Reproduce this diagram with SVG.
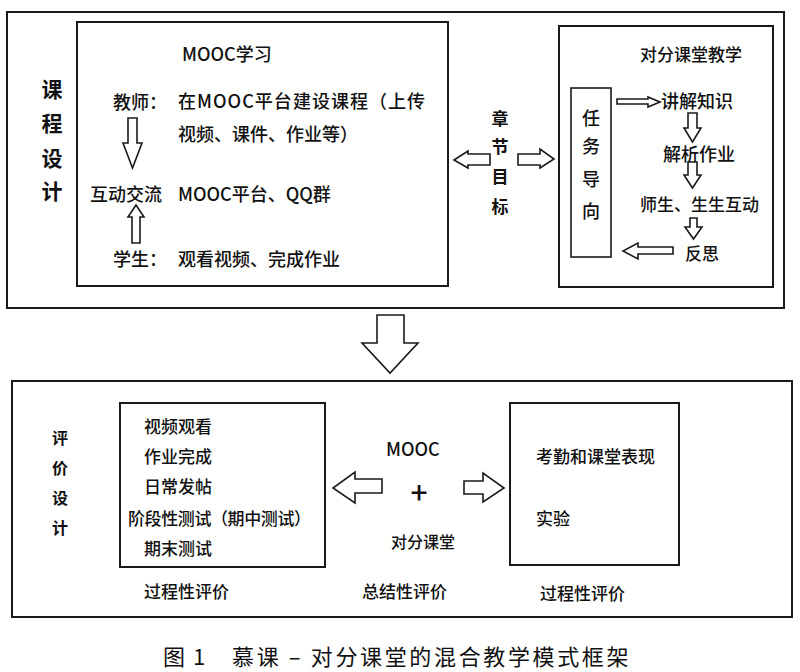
<svg xmlns="http://www.w3.org/2000/svg" width="800" height="672" viewBox="0 0 800 672">
<style>
.box{fill:#fff;stroke:#1a1a1a;stroke-width:2}
.arr{fill:#fff;stroke:#1a1a1a;stroke-width:1.6;stroke-linejoin:miter}
text{font-family:"Noto Sans CJK SC","Noto Sans",sans-serif;fill:#111;dominant-baseline:central}
.t{font-size:18px;font-weight:500}
.s{font-size:17px;font-weight:500}
.b{font-size:21px;font-weight:bold}
.bm{font-size:17px;font-weight:bold}
.bs{font-size:16px;font-weight:bold}
.cap{font-size:22px;font-weight:normal;letter-spacing:1.5px}
</style>
<rect width="800" height="672" fill="#fff"/>

<g id="course-design">
<rect class="box" x="7" y="12" width="777" height="296"/>
<text class="b" x="52" y="88" text-anchor="middle">课</text>
<text class="b" x="52" y="122" text-anchor="middle">程</text>
<text class="b" x="52" y="157" text-anchor="middle">设</text>
<text class="b" x="52" y="190" text-anchor="middle">计</text>
</g>

<g id="mooc-learning">
<rect class="box" x="77" y="22" width="371" height="264"/>
<text class="t" x="182" y="53">MOOC学习</text>
<text class="t" x="113" y="101">教师：</text>
<text class="t" x="178" y="100" textLength="247">在MOOC平台建设课程（上传</text>
<text class="t" x="178" y="133">视频、课件、作业等）</text>
<text class="t" x="90" y="193">互动交流</text>
<text class="t" x="178" y="193">MOOC平台、QQ群</text>
<text class="t" x="113" y="258">学生：</text>
<text class="t" x="178" y="258">观看视频、完成作业</text>
</g>

<g id="chapter-goal">
<text class="bm" x="500" y="117" text-anchor="middle">章</text>
<text class="bm" x="500" y="145" text-anchor="middle">节</text>
<text class="bm" x="500" y="175" text-anchor="middle">目</text>
<text class="bm" x="500" y="205" text-anchor="middle">标</text>
</g>

<g id="duifen-teaching">
<rect class="box" x="559" y="26" width="214" height="261"/>
<text class="s" x="640" y="53">对分课堂教学</text>
<text class="t" x="661" y="100">讲解知识</text>
<text class="t" x="663" y="153">解析作业</text>
<text class="s" x="640" y="203">师生、生生互动</text>
<text class="s" x="685" y="252">反思</text>
</g>

<g id="task-oriented">
<rect class="box" x="571" y="88" width="40" height="169" style="stroke-width:1.6"/>
<text class="t" x="591" y="117" text-anchor="middle">任</text>
<text class="t" x="591" y="145" text-anchor="middle">务</text>
<text class="t" x="591" y="178" text-anchor="middle">导</text>
<text class="t" x="591" y="210" text-anchor="middle">向</text>
</g>

<g id="evaluation-design">
<rect class="box" x="12" y="381" width="780" height="236"/>
<text class="bs" x="60" y="437" text-anchor="middle">评</text>
<text class="bs" x="60" y="467" text-anchor="middle">价</text>
<text class="bs" x="60" y="497" text-anchor="middle">设</text>
<text class="bs" x="60" y="527" text-anchor="middle">计</text>
<text class="t" x="386" y="448">MOOC</text>
<text x="419" y="491" text-anchor="middle" style="font-size:30px;font-weight:500">+</text>
<text class="s" x="391" y="541" style="font-size:16px">对分课堂</text>
<text class="s" x="144" y="590">过程性评价</text>
<text class="s" x="362" y="590">总结性评价</text>
<text class="s" x="540" y="592">过程性评价</text>
</g>

<g id="process-eval-mooc">
<rect class="box" x="120" y="403" width="205" height="164"/>
<text class="s" x="144" y="425">视频观看</text>
<text class="s" x="144" y="455">作业完成</text>
<text class="s" x="144" y="485">日常发帖</text>
<text class="s" x="128" y="517" textLength="183">阶段性测试（期中测试）</text>
<text class="s" x="144" y="547">期末测试</text>
</g>

<g id="process-eval-class">
<rect class="box" x="510" y="403" width="169" height="162"/>
<text class="s" x="536" y="455">考勤和课堂表现</text>
<text class="s" x="536" y="517">实验</text>
</g>

<g id="connectors">
<path class="arr" d="M128,118 H137 V143 H142 L132.5,168 L123,143 H128 Z"/>
<path class="arr" d="M132,243 V217 H128 L136,205 L144,217 H140 V243 Z"/>
<path class="arr" d="M490,154 H468 V151 L454,160 L468,168 V165 H490 Z"/>
<path class="arr" d="M518,154 H540 V149 L554,159 L540,168 V165 H518 Z"/>
<path class="arr" d="M617,99 H648 V97 L660,102 L648,107 V104 H617 Z"/>
<path class="arr" d="M688,113 H697 V128 H701 L692.5,142 L684,128 H688 Z"/>
<path class="arr" d="M688,162 H697 V175 H701 L692.5,188 L684,175 H688 Z"/>
<path class="arr" d="M690,218 H697 V227 H702 L693.5,239 L685,227 H690 Z"/>
<path class="arr" d="M673,247 H638 V243 L623,251 L638,259 V254 H673 Z"/>
<path class="arr" d="M377,315 H404 V343 H418 L390,373 L362,343 H377 Z"/>
<path class="arr" d="M382,479 H355 V472 L333,488 L355,503 V493 H382 Z"/>
<path class="arr" d="M464,481 H483 V473 L504,488 L483,502 V494 H464 Z"/>
</g>

<g id="caption">
<text class="cap" x="163" y="655">图 1</text>
<text class="cap" x="232" y="655" textLength="398">慕课 – 对分课堂的混合教学模式框架</text>
</g>
</svg>
